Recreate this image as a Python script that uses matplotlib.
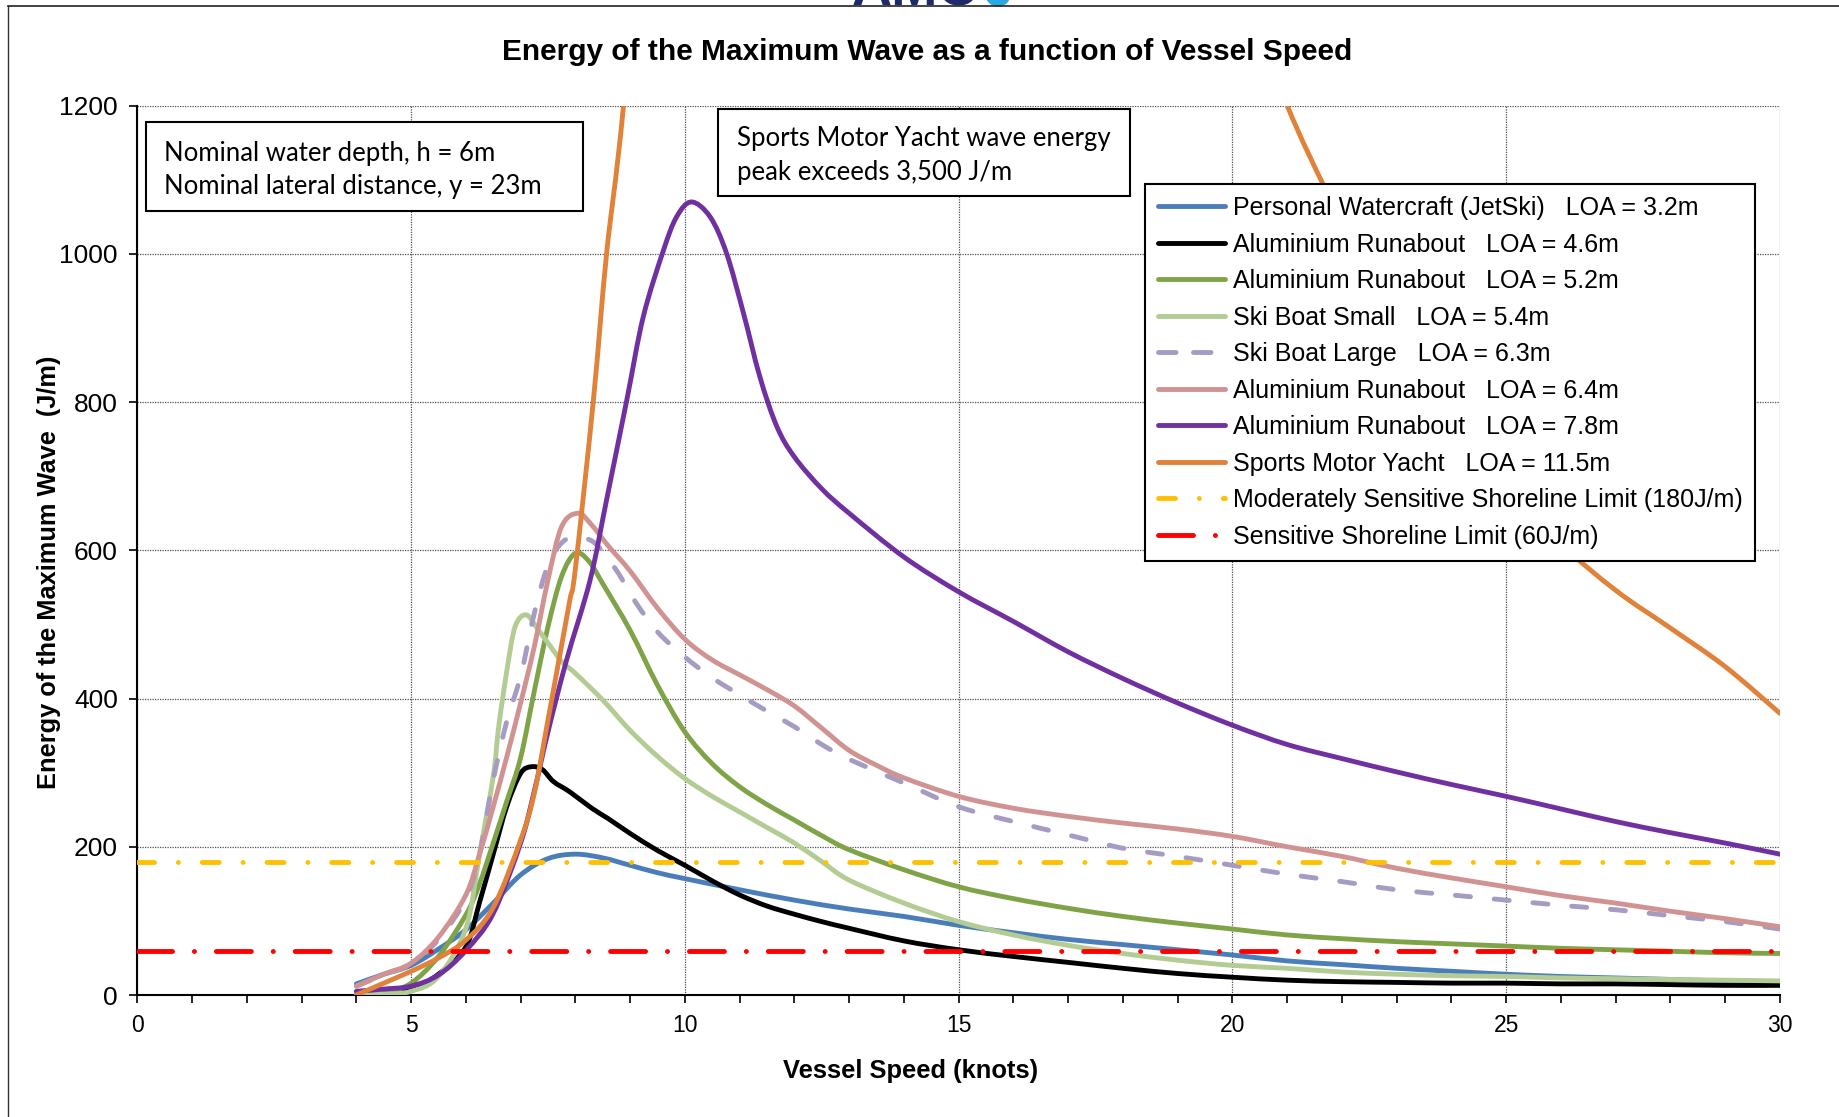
import numpy as np
import matplotlib
matplotlib.use('Agg')
import matplotlib.pyplot as plt
from matplotlib.lines import Line2D
from matplotlib.patches import Rectangle, Ellipse, PathPatch
from matplotlib.path import Path

# values (vessel speed in knots, wave energy in J/m)
jetski_x = [4, 4.5, 5, 5.5, 6, 6.5, 7, 7.5, 8, 8.5, 9, 9.5, 10, 11, 12, 13, 14, 15, 16, 17, 18, 19, 20,
            21, 22, 23, 24, 25, 26, 27, 28, 29, 30]
jetski_y = [15, 28, 40, 62, 88, 124, 162, 184, 190, 185, 175, 165, 157, 142, 128, 116, 106, 94, 84, 75, 68, 61, 54,
            46, 41, 36, 32, 28, 25, 23, 21, 19, 18]

alu46_x = [4, 4.5, 5, 5.5, 6, 6.25, 6.5, 6.75, 7, 7.2, 7.4, 7.6, 7.9, 8.3, 8.6, 9, 9.5, 10, 10.5, 11, 11.5, 12,
           12.5, 13, 14, 15, 16, 17, 18, 19, 20, 21, 22, 23, 24, 25, 26, 27, 28, 29, 30]
alu46_y = [0, 1, 8, 28, 65, 125, 190, 255, 299, 308, 304, 288, 274, 252, 238, 218, 195, 175, 154, 135, 120, 109,
           99, 90, 73, 61, 52, 44, 36, 29, 24, 20, 18, 17, 16, 16, 15, 15, 14, 13, 13]

alu52_x = [4, 4.5, 5, 5.5, 6, 6.25, 6.5, 6.75, 7, 7.25, 7.5, 7.75, 8, 8.25, 8.5, 9, 9.5, 10, 10.5, 11, 11.5, 12,
           12.5, 13, 14, 15, 16, 17, 18, 19, 20, 21, 22, 23, 24, 25, 26, 27, 28, 29, 30]
alu52_y = [0, 2, 16, 52, 108, 150, 205, 262, 320, 410, 497, 565, 596, 585, 555, 492, 418, 355, 312, 281, 257, 236,
           215, 196, 169, 146, 130, 117, 106, 97, 89, 81, 76, 72, 69, 66, 63, 61, 59, 57, 56]

skismall_x = [4, 4.5, 5, 5.5, 6, 6.25, 6.5, 6.6, 6.75, 6.9, 7.1, 7.3, 7.5, 7.75, 8, 8.5, 9, 9.5, 10, 10.5, 11,
              11.5, 12, 12.5, 13, 14, 15, 16, 17, 18, 19, 20, 21, 22, 23, 24, 25, 26, 27, 28, 29, 30]
skismall_y = [0, 1, 5, 25, 90, 190, 295, 362, 438, 497, 513, 495, 475, 450, 434, 398, 357, 322, 292, 268, 247,
              226, 205, 180, 155, 124, 99, 81, 67, 56, 47, 40, 36, 31, 28, 26, 25, 23, 22, 21, 20, 19]

skilarge_x = [4, 4.5, 5, 5.5, 6, 6.25, 6.5, 6.75, 7, 7.25, 7.5, 7.75, 8, 8.35, 8.75, 9.1, 9.5, 10, 10.5, 11, 11.5,
              12, 12.5, 13, 14, 15, 16, 17, 18, 19, 20, 21, 22, 23, 24, 25, 26, 27, 28, 29, 30]
skilarge_y = [12, 27, 42, 75, 130, 190, 290, 370, 430, 515, 580, 610, 618, 610, 573, 530, 490, 456, 428, 405, 383,
              362, 338, 318, 286, 254, 234, 216, 198, 187, 175, 163, 153, 142, 135, 128, 121, 115, 107, 99, 89]

alu64_x = [4, 4.5, 5, 5.5, 6, 6.25, 6.5, 6.75, 7, 7.25, 7.5, 7.75, 8.05, 8.3, 8.6, 9, 9.5, 10, 10.5, 11, 11.5, 12,
           12.5, 13, 13.5, 14, 15, 16, 17, 18, 19, 20, 21, 22, 23, 24, 25, 26, 27, 28, 29, 30]
alu64_y = [12, 28, 43, 78, 135, 190, 254, 322, 394, 470, 560, 632, 650, 634, 606, 572, 522, 480, 452, 432, 412, 390,
           360, 330, 310, 293, 268, 252, 241, 232, 224, 214, 200, 187, 171, 158, 146, 134, 124, 113, 103, 92]

alu78_x = [4, 4.5, 5, 5.5, 6, 6.5, 7, 7.25, 7.5, 7.84, 8.27, 8.57, 8.94, 9.24, 9.61, 9.85, 10.12, 10.46, 10.76,
           11.07, 11.37, 11.68, 12, 12.5, 13, 14, 15, 16, 17, 18, 19, 20, 21, 22, 23, 24, 25, 26, 27, 28,
           29, 30]
alu78_y = [5, 8, 12, 27, 60, 110, 205, 275, 355, 452, 560, 668, 803, 915, 1005, 1050, 1070, 1050, 1001,
           920, 834, 767, 726, 683, 650, 591, 544, 504, 463, 427, 394, 364, 338, 319, 301, 284, 268, 251, 234, 219,
           205, 190]

yacht_x = [4, 4.5, 5, 5.5, 6, 6.5, 7, 7.25, 7.5, 7.7, 7.9, 8, 8.33, 8.57, 8.88, 9.5, 10, 11, 12, 12.5, 13, 14, 15,
           16, 17, 18, 19, 20, 21, 21.66, 22, 23, 24, 25, 26, 27, 28, 29, 30]
yacht_y = [0, 16, 32, 50, 74, 118, 209, 272, 371, 452, 533, 575, 803, 1000, 1200, 1700, 2150, 2900, 3400, 3550,
           3500, 3200, 2850, 2500, 2200, 1900, 1620, 1390, 1200, 1093, 1045, 915, 805, 700, 610, 546, 495,
           443, 380]

moderate_limit = 180
sensitive_limit = 60

labels = ['Personal Watercraft (JetSki)   LOA = 3.2m',
          'Aluminium Runabout   LOA = 4.6m',
          'Aluminium Runabout   LOA = 5.2m',
          'Ski Boat Small   LOA = 5.4m',
          'Ski Boat Large   LOA = 6.3m',
          'Aluminium Runabout   LOA = 6.4m',
          'Aluminium Runabout   LOA = 7.8m',
          'Sports Motor Yacht   LOA = 11.5m',
          'Moderately Sensitive Shoreline Limit (180J/m)',
          'Sensitive Shoreline Limit (60J/m)']

colors = ['#4A7EBB', '#000000', '#7FA347', '#B3CC93', '#A69BC3', '#D09392', '#7030A0', '#E0823A']

arial = ['Liberation Sans', 'DejaVu Sans']


def smooth_path(xs, ys):
    # smoothed line through the points (like Excel's "smoothed line" option)
    pts = np.column_stack([xs, ys]).astype(float)
    n = len(pts)
    verts = [pts[0]]
    codes = [Path.MOVETO]
    for i in range(n - 1):
        p0 = pts[i - 1] if i > 0 else pts[i]
        p1 = pts[i]
        p2 = pts[i + 1]
        p3 = pts[i + 2] if i + 2 < n else pts[i + 1]
        verts += [p1 + (p2 - p0) / 6, p2 - (p3 - p1) / 6, p2]
        codes += [Path.CURVE4] * 3
    return Path(verts, codes)


fig = plt.figure(figsize=(18.4, 11.17), dpi=100)
ax = fig.add_axes([0.07462, 0.10922, 0.89277, 0.79624])

lw = 3.5
dash_large = (0, (3.1, 4.9))
dash_mod = (0, (3.5, 4.9, 0.02, 4.9))
dash_sens = (0, (7.2, 4.5, 0.02, 4.5))

series = [(jetski_x, jetski_y), (alu46_x, alu46_y), (alu52_x, alu52_y), (skismall_x, skismall_y),
          (skilarge_x, skilarge_y), (alu64_x, alu64_y), (alu78_x, alu78_y), (yacht_x, yacht_y)]
handles = []
for i, (xs, ys) in enumerate(series):
    ls = dash_large if i == 4 else '-'
    patch = PathPatch(smooth_path(xs, ys), facecolor='none', edgecolor=colors[i], lw=lw, linestyle=ls,
                      capstyle='round', joinstyle='round', zorder=3 + i * 0.01)
    ax.add_patch(patch)
    hls = (0, (3.6, 3.6)) if i == 4 else '-'
    handles.append(Line2D([], [], color=colors[i], lw=lw, linestyle=hls, dash_capstyle='round',
                          solid_capstyle='round'))

h = ax.axhline(moderate_limit, color='#FFC000', lw=lw, linestyle=dash_mod, dash_capstyle='round', zorder=3.5)
handles.append(h)
h = ax.axhline(sensitive_limit, color='#FF0000', lw=lw, linestyle=dash_sens, dash_capstyle='round', zorder=3.5)
handles.append(h)

ax.set_xlim(0, 30)
ax.set_ylim(0, 1200)
ax.set_xticks(np.arange(0, 31, 5))
ax.set_xticks(np.arange(0, 31, 1), minor=True)
ax.set_yticks(np.arange(0, 1201, 200))
ax.grid(which='major', linestyle=(0, (1, 1)), color='#505050', lw=0.9)
ax.set_axisbelow(True)
for s in ['top', 'right']:
    ax.spines[s].set_visible(False)
for s in ['left', 'bottom']:
    ax.spines[s].set_linewidth(1.5)
ax.tick_params(which='both', direction='out', width=1.2, length=6, pad=8)
ax.tick_params(axis='x', labelsize=16.5)
ax.tick_params(axis='y', labelsize=19)
for t in ax.get_xticklabels() + ax.get_yticklabels():
    t.set_family(arial)

leg = ax.legend(handles, labels, loc='upper left', bbox_to_anchor=(0.6135, 0.9123), borderaxespad=0,
                prop={'family': arial, 'size': 18}, handlelength=2.7, handletextpad=0.3,
                labelspacing=0.5, borderpad=0.5, fancybox=False, framealpha=1, edgecolor='black')
leg.get_frame().set_linewidth(1.5)
leg.set_zorder(10)

# info boxes
ax.add_patch(Rectangle((0.005, 0.8815), 0.2663, 0.1001, transform=ax.transAxes, facecolor='white',
                       edgecolor='black', lw=1.5, zorder=5))
ax.text(0.01625, 0.9465, 'Nominal water depth, h = 6m', transform=ax.transAxes, fontsize=18.5,
        family='Lato', va='center', zorder=6)
ax.text(0.01625, 0.9085, 'Nominal lateral distance, y = 23m', transform=ax.transAxes, fontsize=18.5,
        family='Lato', va='center', zorder=6)

ax.add_patch(Rectangle((0.3535, 0.8984), 0.2508, 0.0978, transform=ax.transAxes, facecolor='white',
                       edgecolor='black', lw=1.5, zorder=5, clip_on=False))
ax.text(0.3651, 0.9625, 'Sports Motor Yacht wave energy', transform=ax.transAxes, fontsize=18.5,
        family='Lato', va='center', zorder=6)
ax.text(0.3651, 0.9245, 'peak exceeds 3,500 J/m', transform=ax.transAxes, fontsize=18.5,
        family='Lato', va='center', zorder=6)

# titles
fig.text(927 / 1840, 1 - 52 / 1117, 'Energy of the Maximum Wave as a function of Vessel Speed',
         ha='center', va='center', fontsize=21.5, fontweight='bold', family=arial)
fig.text(49 / 1840, 1 - 572 / 1117, 'Energy of the Maximum Wave  (J/m)', rotation=90,
         ha='center', va='center', fontsize=18.3, fontweight='bold', family=arial)
fig.text(911 / 1840, 1 - 1071 / 1117, 'Vessel Speed (knots)', ha='center', va='center',
         fontsize=18.4, fontweight='bold', family=arial)

# outer frame and the cut-off logo at the top
fig.add_artist(Line2D([8 / 1840, 8 / 1840], [0, 1 - 6 / 1117], transform=fig.transFigure,
                      color='#333333', lw=1))
fig.add_artist(Line2D([8 / 1840, 1], [1 - 6 / 1117, 1 - 6 / 1117], transform=fig.transFigure,
                      color='#222222', lw=1.2))
fig.text(915 / 1840, 1 - 5 / 1117, 'AMC', ha='center', va='baseline', fontsize=40,
         fontweight='bold', color='#1F2A6B', family=arial)
fig.add_artist(Ellipse((998 / 1840, 1 + 6 / 1117), 24 / 1840, 24 / 1117, transform=fig.transFigure,
                       color='#2AA9E0'))

fig.savefig('out.png', dpi=100)
